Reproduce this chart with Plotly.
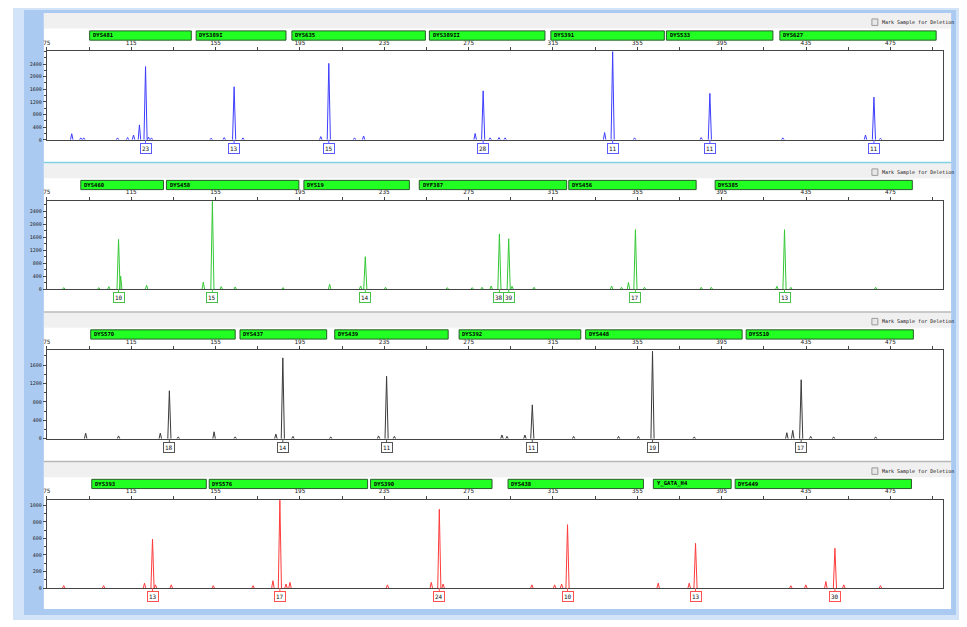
import plotly.graph_objects as go

# ---------------- data ----------------
x_tick_vals = [75, 115, 155, 195, 235, 275, 315, 355, 395, 435, 475]

# Panel 1 (blue)
p1_markers = ["DYS481", "DYS389I", "DYS635", "DYS389II", "DYS391", "DYS533", "DYS627"]
p1_marker_start = [95.3, 145.8, 191.2, 256.4, 314.0, 368.8, 422.6]
p1_marker_end = [143.5, 188.4, 254.5, 311.2, 367.8, 419.3, 496.7]
p1_peak_bp = [121.8, 163.8, 208.7, 281.9, 343.3, 389.4, 467.2]
p1_peak_rfu = [2320, 1680, 2420, 1550, 2790, 1470, 1350]
p1_alleles = ["23", "13", "15", "28", "11", "11", "11"]
p1_minor_bp = [86.8, 91.1, 92.5, 108.5, 113.3, 116.1, 118.9, 123.2, 124.6, 152.9, 159.1, 168.0,
               204.9, 220.9, 225.2, 278.1, 285.2, 289.4, 292.3, 339.5, 353.7, 385.3, 424.0, 463.2, 470.3]
p1_minor_rfu = [190, 60, 60, 60, 70, 150, 470, 80, 60, 50, 70, 60,
                100, 60, 120, 200, 60, 70, 60, 230, 60, 70, 60, 150, 50]
p1_y_ticks = [0, 400, 800, 1200, 1600, 2000, 2400]
p1_y_max = 2810

# Panel 2 (green)
p2_markers = ["DYS460", "DYS458", "DYS19", "DYF387", "DYS456", "DYS385"]
p2_marker_start = [91.1, 131.7, 196.9, 251.6, 322.5, 391.9]
p2_marker_end = [130.3, 194.5, 246.9, 321.5, 382.9, 485.4]
p2_peak_bp = [109.0, 153.5, 226.0, 289.6, 294.0, 354.1, 424.8]
p2_peak_rfu = [1530, 2700, 1000, 1700, 1550, 1830, 1830]
p2_alleles = ["10", "15", "14", "38", "39", "17", "13"]
p2_minor_bp = [83.0, 99.6, 104.4, 110.0, 122.3, 149.2, 157.7, 164.3, 187.0, 209.1, 223.8, 235.6,
               264.9, 276.7, 281.4, 285.7, 295.6, 306.0, 342.8, 347.5, 350.8, 358.4, 385.3, 390.1,
               421.2, 427.8, 468.0]
p2_minor_rfu = [50, 50, 80, 400, 120, 220, 80, 70, 50, 150, 100, 60,
                50, 50, 60, 100, 90, 60, 100, 60, 210, 60, 60, 60,
                90, 60, 60]
p2_y_ticks = [0, 400, 800, 1200, 1600, 2000, 2400]
p2_y_max = 2725

# Panel 3 (black)
p3_markers = ["DYS570", "DYS437", "DYS439", "DYS392", "DYS448", "DYS510"]
p3_marker_start = [95.8, 166.6, 211.5, 270.5, 330.5, 406.6]
p3_marker_end = [164.3, 207.7, 265.3, 328.2, 404.7, 485.9]
p3_peak_bp = [133.1, 186.9, 236.1, 305.2, 362.2, 432.7]
p3_peak_rfu = [1040, 1755, 1355, 735, 1900, 1280]
p3_alleles = ["18", "14", "11", "11", "19", "17"]
p3_minor_bp = [93.4, 109.0, 128.8, 137.3, 154.3, 164.3, 183.6, 191.7, 209.6, 232.3, 239.8, 290.8,
               293.2, 301.7, 324.8, 346.1, 355.5, 382.0, 425.9, 428.7, 437.2, 448.1, 468.0]
p3_minor_rfu = [120, 60, 120, 40, 150, 40, 100, 50, 40, 60, 50, 80,
                50, 80, 50, 50, 50, 40, 130, 180, 50, 40, 40]
p3_y_ticks = [0, 400, 800, 1200, 1600]
p3_y_max = 1925

# Panel 4 (red)
p4_markers = ["DYS393", "DYS576", "DYS390", "DYS438", "Y_GATA_H4", "DYS449"]
p4_marker_start = [96.3, 152.0, 228.5, 293.7, 362.6, 401.4]
p4_marker_end = [150.6, 227.1, 286.1, 357.9, 399.5, 485.0]
p4_peak_bp = [125.1, 185.5, 261.1, 321.9, 382.6, 448.7]
p4_peak_rfu = [590, 1060, 950, 765, 540, 480]
p4_alleles = ["13", "17", "24", "10", "13", "30"]
p4_minor_bp = [83.0, 101.9, 121.3, 126.5, 134.0, 153.9, 172.8, 182.2, 188.4, 190.3, 236.5, 257.3,
               262.9, 305.0, 315.8, 319.1, 364.9, 379.6, 427.8, 434.9, 444.4, 452.9, 470.3]
p4_minor_rfu = [30, 30, 60, 40, 40, 30, 30, 90, 50, 70, 40, 70,
                50, 40, 40, 50, 60, 60, 30, 40, 80, 40, 30]
p4_y_ticks = [0, 200, 400, 600, 800, 1000]
p4_y_max = 1068

panels = [
    dict(markers=p1_markers, ms=p1_marker_start, me=p1_marker_end, bp=p1_peak_bp, rfu=p1_peak_rfu,
         al=p1_alleles, mbp=p1_minor_bp, mrfu=p1_minor_rfu, yt=p1_y_ticks, ymax=p1_y_max,
         color="#3d3dff", box="#5a5aff"),
    dict(markers=p2_markers, ms=p2_marker_start, me=p2_marker_end, bp=p2_peak_bp, rfu=p2_peak_rfu,
         al=p2_alleles, mbp=p2_minor_bp, mrfu=p2_minor_rfu, yt=p2_y_ticks, ymax=p2_y_max,
         color="#35c835", box="#49c049"),
    dict(markers=p3_markers, ms=p3_marker_start, me=p3_marker_end, bp=p3_peak_bp, rfu=p3_peak_rfu,
         al=p3_alleles, mbp=p3_minor_bp, mrfu=p3_minor_rfu, yt=p3_y_ticks, ymax=p3_y_max,
         color="#3a3a3a", box="#555555"),
    dict(markers=p4_markers, ms=p4_marker_start, me=p4_marker_end, bp=p4_peak_bp, rfu=p4_peak_rfu,
         al=p4_alleles, mbp=p4_minor_bp, mrfu=p4_minor_rfu, yt=p4_y_ticks, ymax=p4_y_max,
         color="#ff3b3b", box="#ff5050"),
]

# ---------------- layout helpers ----------------
# the page body keeps an 8px margin, so the figure is 8px smaller and positions are offset
OFF = 8
W, H = 967 - OFF, 627 - OFF
def px(x):
    return (x - OFF) / W
def py(y):
    return 1 - (y - OFF) / H

HALF_W = 0.75       # half width of a drawn peak (bp)
MINOR_HALF_W = 0.6
AXIS_COL = "#454545"
MONO = "DejaVu Sans Mono"

fig = go.Figure()
shapes = []
annotations = []

# window frame
shapes.append(dict(type="rect", xref="paper", yref="paper", x0=px(9), x1=px(961), y0=py(623), y1=py(8),
                   fillcolor="#d3e4f8", line=dict(width=0), layer="below"))
shapes.append(dict(type="rect", xref="paper", yref="paper", x0=px(20), x1=px(956), y0=py(618), y1=py(10),
                   fillcolor="#abcaf2", line=dict(width=0), layer="below"))
shapes.append(dict(type="rect", xref="paper", yref="paper", x0=px(40), x1=px(951), y0=py(612), y1=py(13),
                   fillcolor="white", line=dict(width=0), layer="below"))

PANEL_STEP = 150.2
for k, p in enumerate(panels):
    off = PANEL_STEP * k
    top_px = 51.3 + off
    bot_px = 140.4 + off
    ax_id = "" if k == 0 else str(k + 1)
    xref = "x" + ax_id
    yref = "y" + ax_id

    # trace of peaks
    items = sorted([(b, h, HALF_W) for b, h in zip(p["bp"], p["rfu"])] +
                   [(b, h, MINOR_HALF_W) for b, h in zip(p["mbp"], p["mrfu"])])
    xs, ys = [], []
    for b, h, w in items:
        xs += [b - w, b, b + w, None]
        ys += [0, h, 0, None]
    fig.add_trace(go.Scatter(x=xs, y=ys, mode="lines", line=dict(color=p["color"], width=1),
                             xaxis=xref, yaxis=yref, showlegend=False, hoverinfo="skip"))

    xa = dict(domain=[px(43), px(943)], range=[75, 500], side="top", anchor=yref,
              tickvals=x_tick_vals, ticks="outside", ticklen=3, tickcolor=AXIS_COL,
              tickfont=dict(size=6, family=MONO, color="#222"),
              minor=dict(dtick=20, tick0=75, ticks="outside", ticklen=3, tickcolor=AXIS_COL),
              showline=True, linecolor=AXIS_COL, linewidth=1, mirror=True, showgrid=False,
              zeroline=False, fixedrange=True)
    ya = dict(domain=[py(bot_px), py(top_px)], range=[0, p["ymax"]], anchor=xref,
              tickvals=p["yt"], ticks="outside", ticklen=3, tickcolor=AXIS_COL,
              tickfont=dict(size=5, family=MONO, color="#222"),
              minor=dict(dtick=(p["yt"][1] - p["yt"][0]) / 2, ticks="outside", ticklen=2, tickcolor=AXIS_COL),
              showline=True, linecolor=AXIS_COL, linewidth=1, mirror=True, showgrid=False,
              zeroline=False, fixedrange=True)
    fig.update_layout(**{"xaxis" + ax_id: xa, "yaxis" + ax_id: ya})

    # header strip, divider, checkbox
    hdr_top = 13 + off if k == 0 else 13.5 + off
    shapes.append(dict(type="rect", xref="paper", yref="paper", x0=px(40), x1=px(951),
                       y0=py(hdr_top + 15.5), y1=py(hdr_top), fillcolor="#f0f0f0",
                       line=dict(width=0), layer="below"))
    if k > 0:
        shapes.append(dict(type="line", xref="paper", yref="paper", x0=px(40), x1=px(951),
                           y0=py(hdr_top - 0.5), y1=py(hdr_top - 0.5),
                           line=dict(color="#7fd3e3" if k == 1 else "#b8b8b8", width=1.5)))
    shapes.append(dict(type="rect", xref="paper", yref="paper", x0=px(871.5), x1=px(877.5),
                       y0=py(hdr_top + 12.5), y1=py(hdr_top + 6), fillcolor="#e8e8e8",
                       line=dict(color="#9a9a9a", width=1)))
    annotations.append(dict(xref="paper", yref="paper", x=px(879.5), y=py(hdr_top + 9.3),
                            text="Mark Sample for Deletion", showarrow=False, xanchor="left",
                            yanchor="middle", font=dict(size=5, family=MONO, color="#111")))

    # marker bars
    for name, s, e in zip(p["markers"], p["ms"], p["me"]):
        shapes.append(dict(type="rect", xref=xref, yref="paper", x0=s, x1=e,
                           y0=py(40.3 + off), y1=py(31 + off), fillcolor="#22ff22",
                           line=dict(color="#2a5a2a", width=1)))
        annotations.append(dict(xref=xref, yref="paper", x=s + 0.6, y=py(35.5 + off), text="<b>" + name + "</b>",
                                showarrow=False, xanchor="left", yanchor="middle",
                                font=dict(size=5.6, family=MONO, color="#000")))

    # allele labels
    for b, a in zip(p["bp"], p["al"]):
        annotations.append(dict(xref=xref, yref=yref, x=b, y=0, text=a, showarrow=True,
                                arrowhead=0, arrowwidth=1, arrowcolor=p["box"], ax=0, ay=8.5,
                                font=dict(size=6, family=MONO, color="#111"),
                                bordercolor=p["box"], borderwidth=1, borderpad=1, bgcolor="white"))

fig.update_layout(width=W, height=H, margin=dict(l=0, r=0, t=0, b=0),
                  paper_bgcolor="white", plot_bgcolor="white",
                  shapes=shapes, annotations=annotations, showlegend=False)

fig.write_html("out.html")
